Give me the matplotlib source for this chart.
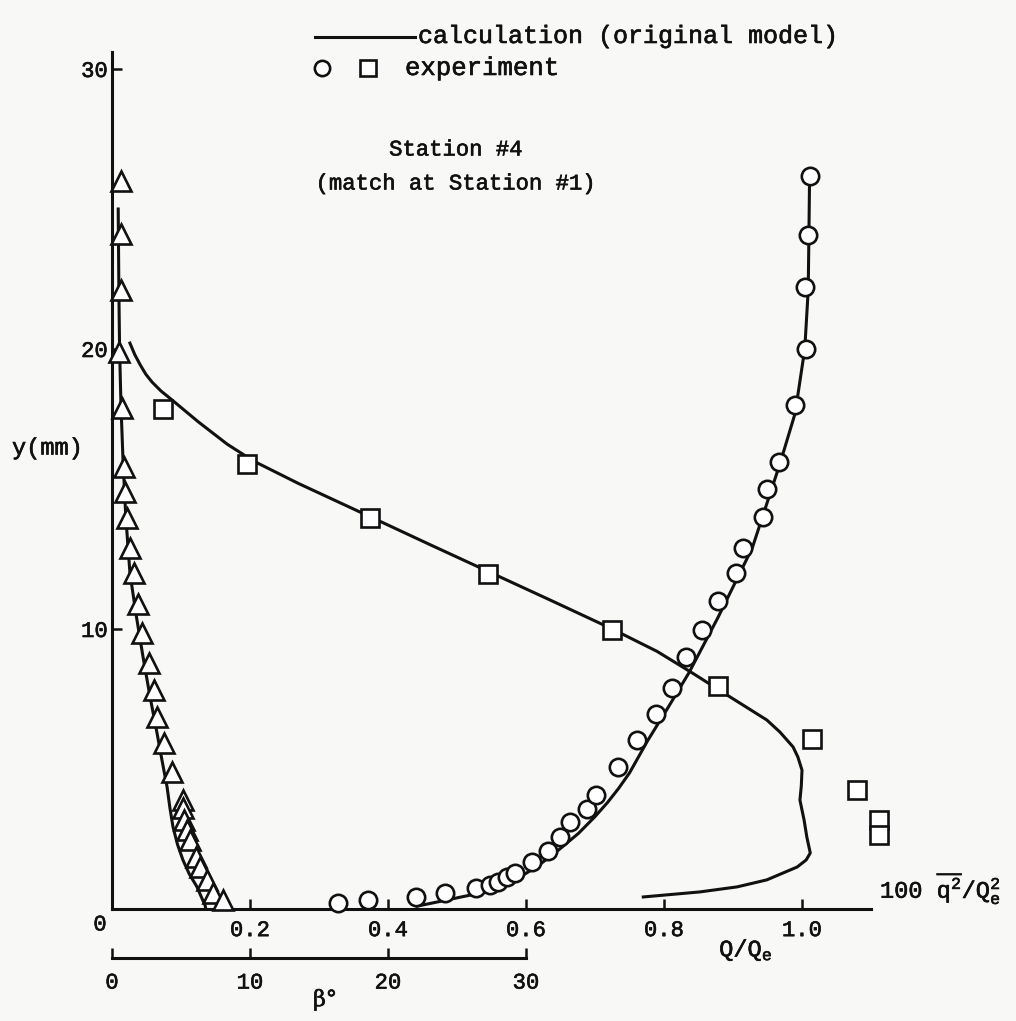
import matplotlib
matplotlib.use("Agg")
import matplotlib.pyplot as plt
from matplotlib.lines import Line2D
import matplotlib.patheffects as pe

# ---------------- data ----------------
# experiment: Q/Qe (circles)
circ_y = [0.21, 0.32, 0.43, 0.57, 0.75, 0.86, 0.96, 1.14, 1.29, 1.68, 2.07, 2.57,
          3.11, 3.57, 4.07, 5.07, 6.04, 6.96, 7.9, 9.0, 9.96, 11.0, 12.0, 12.9,
          14.0, 15.0, 15.96, 18.0, 20.0, 22.2, 24.07, 26.18]
circ_q = [0.328, 0.371, 0.441, 0.483, 0.528, 0.548, 0.559, 0.572, 0.584, 0.609, 0.632, 0.649,
          0.664, 0.688, 0.701, 0.733, 0.761, 0.788, 0.812, 0.832, 0.855, 0.878, 0.904, 0.914,
          0.943, 0.949, 0.967, 0.990, 1.006, 1.004, 1.009, 1.012]
# calculation: Q/Qe
calcQ_y = [0.1, 0.5, 1.14, 1.5, 2.0, 2.7, 3.3, 3.8, 4.3, 4.86, 6.0, 7.2, 8.43, 10.4, 12.9,
           15.9, 17.7, 20.0, 22.1, 24.0, 26.2]
calcQ_q = [0.442, 0.52, 0.591, 0.615, 0.642, 0.676, 0.700, 0.718, 0.734, 0.750, 0.776, 0.806,
           0.836, 0.878, 0.928, 0.968, 0.99, 1.004, 1.009, 1.010, 1.011]
# experiment: 100 q^2/Qe^2 (squares)
sq_y = [17.86, 15.9, 13.96, 11.96, 9.96, 7.96, 6.07, 4.25, 3.18, 2.64]
sq_v = [0.074, 0.196, 0.374, 0.545, 0.725, 0.878, 1.014, 1.080, 1.112, 1.112]
# calculation: 100 q^2/Qe^2
calcq2_y = [20.21, 19.8, 19.43, 19.1, 18.82, 18.5, 18.18, 17.4, 16.6, 16.0, 15.2, 14.0, 13.0,
            12.0, 11.0, 10.0, 9.2, 8.43, 7.57, 6.75, 6.32, 5.79, 5.43, 4.96, 4.4, 3.89, 3.18,
            2.57, 2.0, 1.75, 1.5, 1.04, 0.79, 0.61, 0.43]
calcq2_v = [0.026, 0.033, 0.041, 0.049, 0.058, 0.071, 0.087, 0.125, 0.167, 0.205, 0.27, 0.375,
            0.462, 0.55, 0.638, 0.725, 0.79, 0.841, 0.896, 0.949, 0.968, 0.987, 0.994, 1.0,
            0.999, 0.997, 1.003, 1.007, 1.012, 1.006, 0.993, 0.949, 0.906, 0.852, 0.770]
# experiment: beta (degrees, triangles)
tri_y = [26.0, 24.1, 22.1, 19.9, 17.9, 15.8, 14.9, 13.96, 12.9, 12.0, 10.9, 9.86, 8.79,
         7.82, 6.86, 5.93, 4.89, 3.89, 3.61, 3.18, 2.82, 2.46, 1.86, 1.5, 1.04, 0.57, 0.32]
tri_beta = [0.65, 0.65, 0.65, 0.5, 0.72, 0.87, 0.94, 1.09, 1.30, 1.59, 1.88, 2.17, 2.68,
            3.04, 3.26, 3.77, 4.35, 5.14, 5.14, 5.22, 5.43, 5.65, 6.09, 6.38, 6.88, 7.32, 8.04]
# calculation: beta
calcB_y = [25.0, 22.0, 20.0, 18.0, 16.0, 14.0, 12.0, 10.5, 9.0, 7.6, 6.29, 5.32, 4.36, 3.6,
           2.93, 2.3, 1.75, 1.25, 0.79, 0.4, 0.14, 0.0]
calcB_beta = [0.45, 0.5, 0.55, 0.65, 0.8, 1.0, 1.3, 1.75, 2.25, 2.75, 3.26, 3.62, 3.99, 4.2,
              4.42, 4.75, 5.14, 5.6, 6.16, 6.5, 6.74, 6.8]

q_ticks = [0.2, 0.4, 0.6, 0.8, 1.0]
q_ticklabels = ["0.2", "0.4", "0.6", "0.8", "1.0"]
y_ticks = [10, 20, 30]
beta_ticks = [0, 10, 20, 30]

# ---------------- style ----------------
INK = "#111111"
BG = "#f8f8f6"
FONT = "Liberation Mono"
plt.rcParams["font.family"] = [FONT, "DejaVu Sans"]
plt.rcParams["mathtext.fontset"] = "custom"
plt.rcParams["mathtext.rm"] = FONT
plt.rcParams["mathtext.it"] = FONT
plt.rcParams["mathtext.sf"] = FONT
BOLDEN = [pe.withStroke(linewidth=0.45, foreground=INK)]

W, H = 1016, 1021
X0, Y0 = 112, 909          # pixel position of the origin
PX_Q, PX_MM = 690, 28      # pixels per unit Q/Qe and per mm
BETA_PER_Q = 50            # 30 deg <-> 0.6 on the Q scale

fig = plt.figure(figsize=(W / 100, H / 100), dpi=100)
fig.patch.set_facecolor(BG)
ax = fig.add_axes([X0 / W, (H - Y0) / H, (W - X0) / W, Y0 / H])
ax.set_xlim(0, (W - X0) / PX_Q)
ax.set_ylim(0, Y0 / PX_MM)
ax.patch.set_alpha(0)

LW = 2.2
MEW = 1.9
# calculation curves
ax.plot(calcQ_q, calcQ_y, color=INK, lw=LW, clip_on=False, zorder=2,
        solid_joinstyle="round")
ax.plot(calcq2_v, calcq2_y, color=INK, lw=LW, clip_on=False, zorder=2,
        solid_joinstyle="round")
# experiment
ax.plot(circ_q, circ_y, ls="none", marker="o", ms=12.5, mfc="white", mec=INK, mew=MEW,
        clip_on=False, zorder=3)
ax.plot(sq_v, sq_y, ls="none", marker="s", ms=12.5, mfc="white", mec=INK, mew=MEW,
        clip_on=False, zorder=3)

# axes styling
for s in ["top", "right"]:
    ax.spines[s].set_visible(False)
ax.spines["left"].set_bounds(0, 30.6)
ax.spines["bottom"].set_bounds(0, 1.1)
for s in ["left", "bottom"]:
    ax.spines[s].set_linewidth(2.2)
    ax.spines[s].set_color(INK)
ax.set_xticks(q_ticks)
ax.set_xticklabels(q_ticklabels)
ax.set_yticks(y_ticks)
ax.tick_params(axis="x", direction="in", length=7, width=1.8, pad=8, labelsize=16,
               colors=INK)
ax.tick_params(axis="y", direction="in", length=7, width=1.8, pad=3, labelsize=16,
               colors=INK)

# beta axis (twin, same y)
ax2 = ax.twiny()
ax2.set_xlim(0, (W - X0) / PX_Q * BETA_PER_Q)
ax2.xaxis.tick_bottom()
ax2.xaxis.set_label_position("bottom")
for s in ["top", "right", "left"]:
    ax2.spines[s].set_visible(False)
ax2.spines["bottom"].set_position(("outward", 49 * 0.72))
ax2.spines["bottom"].set_bounds(0, 30)
ax2.spines["bottom"].set_linewidth(2.2)
ax2.spines["bottom"].set_color(INK)
ax2.set_xticks(beta_ticks)
ax2.set_xticklabels([str(b) for b in beta_ticks])
ax2.tick_params(axis="x", direction="in", length=7, width=1.8, pad=10.5, labelsize=16,
                colors=INK)
ax2.plot(calcB_beta, calcB_y, color=INK, lw=LW, clip_on=False, zorder=2,
         solid_joinstyle="round")
ax2.plot(tri_beta, tri_y, ls="none", marker="^", ms=14, mfc="white", mec=INK, mew=MEW,
         clip_on=False, zorder=3)

for lab in ax.get_xticklabels() + ax.get_yticklabels() + ax2.get_xticklabels():
    lab.set_path_effects(BOLDEN)


def ftext(x, y, s, **kw):
    t = fig.text(x / W, 1 - y / H, s, color=INK, **kw)
    t.set_path_effects(BOLDEN)
    return t


# labels
ftext(100, 925, "0", fontsize=16, ha="center", va="center")
ftext(12, 448, "y(mm)", fontsize=17, ha="left", va="center")
ftext(746, 950, r"Q/Q$_{\mathrm{e}}$", fontsize=17, ha="center", va="center")
ftext(880, 888, r"100 $\overline{\mathrm{q}^{2}}$/Q$_{\mathrm{e}}^{2}$", fontsize=17,
      ha="left", va="center")
ftext(325, 1000, "β°", fontsize=16, ha="center", va="center",
      family=["DejaVu Serif"])

# titles
ftext(456, 150, "Station #4", fontsize=16, ha="center", va="center")
ftext(456, 184, "(match at Station #1)", fontsize=16, ha="center", va="center")

# legend (drawn by hand, like the original typed key)
fig.add_artist(Line2D([315 / W, 415 / W], [1 - 37 / H, 1 - 37 / H], color=INK, lw=LW))
ftext(418, 36, "calculation (original model)", fontsize=18, ha="left", va="center")
fig.add_artist(Line2D([322 / W], [1 - 68 / H], marker="o", ms=11, mfc="white", mec=INK,
                      mew=MEW, ls="none"))
fig.add_artist(Line2D([368 / W], [1 - 68 / H], marker="s", ms=11, mfc="white", mec=INK,
                      mew=MEW, ls="none"))
ftext(405, 68, "experiment", fontsize=18.5, ha="left", va="center")

fig.savefig("out.png", dpi=100, facecolor=BG)
